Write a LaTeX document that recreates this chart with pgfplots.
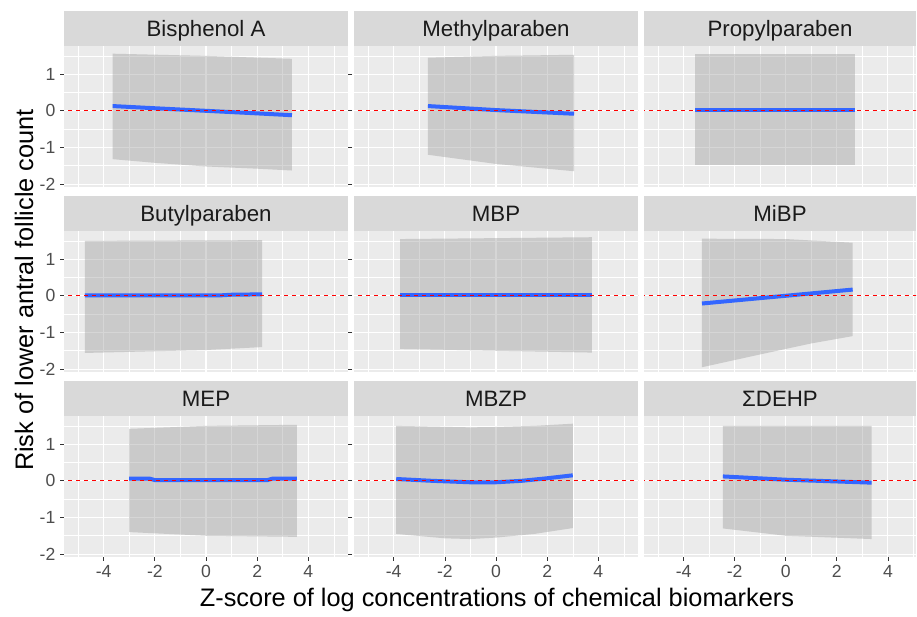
\documentclass[border=0pt]{standalone}
\usepackage{fontspec}
\setmainfont{Liberation Sans}
\usepackage{pgfplots}
\pgfplotsset{compat=1.18}
\usepgfplotslibrary{fillbetween}
\definecolor{ggbg}{HTML}{EBEBEB}
\definecolor{stripc}{HTML}{D9D9D9}
\definecolor{ticklab}{HTML}{4D4D4D}
\definecolor{tickc}{HTML}{333333}
\definecolor{ggblue}{HTML}{3366FF}
\definecolor{ribc}{HTML}{999999}
\pgfplotsset{
  every axis title shift=0pt,
  panel/.style={
    scale only axis, width=213pt, height=105.75pt,
    xmin=-5.55, xmax=5.55, ymin=-2.08, ymax=1.77,
    axis background/.style={fill=ggbg},
    axis line style={draw=none},
    xtick={-4,-2,0,2,4}, ytick={-2,-1,0,1},
    minor xtick={-5,-3,-1,1,3,5}, minor ytick={-1.5,-0.5,0.5,1.5},
    grid=both,
    major grid style={white, line width=0.8pt},
    minor grid style={white, line width=0.4pt},
    tick align=outside, major tick length=3pt, minor tick length=0pt,
    tick style={tickc, line width=0.5pt},
    /pgf/number format/assume math mode=true,
    tick label style={font=\fontsize{13.2}{13.2}\selectfont, text=ticklab},
    title style={at={(0.5,1)}, anchor=south, fill=stripc, minimum width=213pt,
      minimum height=26.25pt, inner sep=0pt, yshift=0pt,
      text height=11.9pt, text depth=0pt,
      font=\fontsize{16.7}{16.7}\selectfont, text={rgb,255:red,26;green,26;blue,26}},
  },
  nox/.style={xticklabels={}, xtick style={draw=none}},
  noy/.style={yticklabels={}, ytick style={draw=none}},
  col3/.style={width=204pt, xmax=5.1, title style={minimum width=204pt}},
  rib/.style={fill=ribc, fill opacity=0.4, draw=none},
  fit/.style={ggblue, line width=3pt},
  hl/.style={red, line width=0.75pt, dash pattern=on 3pt off 3pt},
}
\begin{document}
\begin{tikzpicture}
% Row 1
\begin{axis}[panel, nox, at={(48pt,322.5pt)}, anchor=south west, title={Bisphenol A}]
\addplot[name path=up, draw=none] coordinates {(-3.65,1.56) (0,1.50) (3.36,1.42)};
\addplot[name path=lo, draw=none] coordinates {(-3.65,-1.32) (-2,-1.42) (0,-1.52) (2,-1.58) (3.36,-1.63)};
\addplot[rib] fill between[of=up and lo];
\addplot[fit] coordinates {(-3.65,0.13) (-2,0.07) (0,0.0) (2,-0.07) (3.36,-0.12)};
\addplot[hl] coordinates {(-6,0) (6,0)};
\end{axis}
\begin{axis}[panel, nox, noy, at={(265.5pt,322.5pt)}, anchor=south west, title={Methylparaben}]
\addplot[name path=up, draw=none] coordinates {(-2.66,1.45) (0,1.50) (3.05,1.53)};
\addplot[name path=lo, draw=none] coordinates {(-2.66,-1.2) (0,-1.45) (3.05,-1.65)};
\addplot[rib] fill between[of=up and lo];
\addplot[fit] coordinates {(-2.66,0.13) (0,0.02) (3.05,-0.08)};
\addplot[hl] coordinates {(-6,0) (6,0)};
\end{axis}
\begin{axis}[panel, col3, nox, noy, at={(483pt,322.5pt)}, anchor=south west, title={Propylparaben}]
\addplot[name path=up, draw=none] coordinates {(-3.55,1.55) (2.7,1.55)};
\addplot[name path=lo, draw=none] coordinates {(-3.55,-1.48) (2.7,-1.48)};
\addplot[rib] fill between[of=up and lo];
\addplot[fit] coordinates {(-3.55,0.01) (2.7,0.01)};
\addplot[hl] coordinates {(-6,0) (6,0)};
\end{axis}
% Row 2
\begin{axis}[panel, nox, at={(48pt,183.75pt)}, anchor=south west, title={Butylparaben}]
\addplot[name path=up, draw=none] coordinates {(-4.73,1.5) (2.19,1.52)};
\addplot[name path=lo, draw=none] coordinates {(-4.73,-1.56) (0,-1.48) (2.19,-1.4)};
\addplot[rib] fill between[of=up and lo];
\addplot[fit] coordinates {(-4.73,0.01) (0.5,0.01) (1,0.03) (2.19,0.04)};
\addplot[hl] coordinates {(-6,0) (6,0)};
\end{axis}
\begin{axis}[panel, nox, noy, at={(265.5pt,183.75pt)}, anchor=south west, title={MBP}]
\addplot[name path=up, draw=none] coordinates {(-3.75,1.55) (3.75,1.6)};
\addplot[name path=lo, draw=none] coordinates {(-3.75,-1.45) (3.75,-1.55)};
\addplot[rib] fill between[of=up and lo];
\addplot[fit] coordinates {(-3.75,0.01) (3.75,0.01)};
\addplot[hl] coordinates {(-6,0) (6,0)};
\end{axis}
\begin{axis}[panel, col3, nox, noy, at={(483pt,183.75pt)}, anchor=south west, title={MiBP}]
\addplot[name path=up, draw=none] coordinates {(-3.28,1.56) (0,1.55) (2.62,1.45)};
\addplot[name path=lo, draw=none] coordinates {(-3.28,-1.95) (-1,-1.6) (1,-1.3) (2.62,-1.1)};
\addplot[rib] fill between[of=up and lo];
\addplot[fit] coordinates {(-3.28,-0.21) (2.62,0.17)};
\addplot[hl] coordinates {(-6,0) (6,0)};
\end{axis}
% Row 3
\begin{axis}[panel, at={(48pt,45pt)}, anchor=south west, title={MEP}]
\addplot[name path=up, draw=none] coordinates {(-3,1.42) (0,1.5) (3.55,1.53)};
\addplot[name path=lo, draw=none] coordinates {(-3,-1.4) (0,-1.5) (3.55,-1.53)};
\addplot[rib] fill between[of=up and lo];
\addplot[fit] coordinates {(-3,0.06) (-2.2,0.06) (-2,0.02) (2.4,0.02) (2.6,0.06) (3.55,0.06)};
\addplot[hl] coordinates {(-6,0) (6,0)};
\end{axis}
\begin{axis}[panel, noy, at={(265.5pt,45pt)}, anchor=south west, title={MBZP}]
\addplot[name path=up, draw=none] coordinates {(-3.9,1.5) (-1,1.46) (0,1.47) (1.5,1.5) (3,1.56)};
\addplot[name path=lo, draw=none] coordinates {(-3.9,-1.45) (-2,-1.57) (-1,-1.59) (0,-1.55) (1.5,-1.45) (3,-1.29)};
\addplot[rib] fill between[of=up and lo];
\addplot[fit] coordinates {(-3.9,0.05) (-2.5,0.0) (-1,-0.04) (0,-0.04) (1,0.0) (2,0.07) (3.0,0.15)};
\addplot[hl] coordinates {(-6,0) (6,0)};
\end{axis}
\begin{axis}[panel, col3, noy, at={(483pt,45pt)}, anchor=south west, title={ΣDEHP}]
\addplot[name path=up, draw=none] coordinates {(-2.46,1.5) (3.36,1.5)};
\addplot[name path=lo, draw=none] coordinates {(-2.46,-1.3) (0,-1.5) (3.36,-1.59)};
\addplot[rib] fill between[of=up and lo];
\addplot[fit] coordinates {(-2.46,0.12) (0,0.03) (3.36,-0.05)};
\addplot[hl] coordinates {(-6,0) (6,0)};
\end{axis}
\node[rotate=90, anchor=base, font=\fontsize{19}{19}\selectfont] at (24.75pt,245.25pt) {Risk of lower antral follicle count};
\node[anchor=base, font=\fontsize{19}{19}\selectfont] at (372.75pt,7.5pt) {Z-score of log concentrations of chemical biomarkers};
\pgfresetboundingbox
\path[use as bounding box] (0,0) rectangle (687.75pt,462.75pt);
\end{tikzpicture}
\end{document}
